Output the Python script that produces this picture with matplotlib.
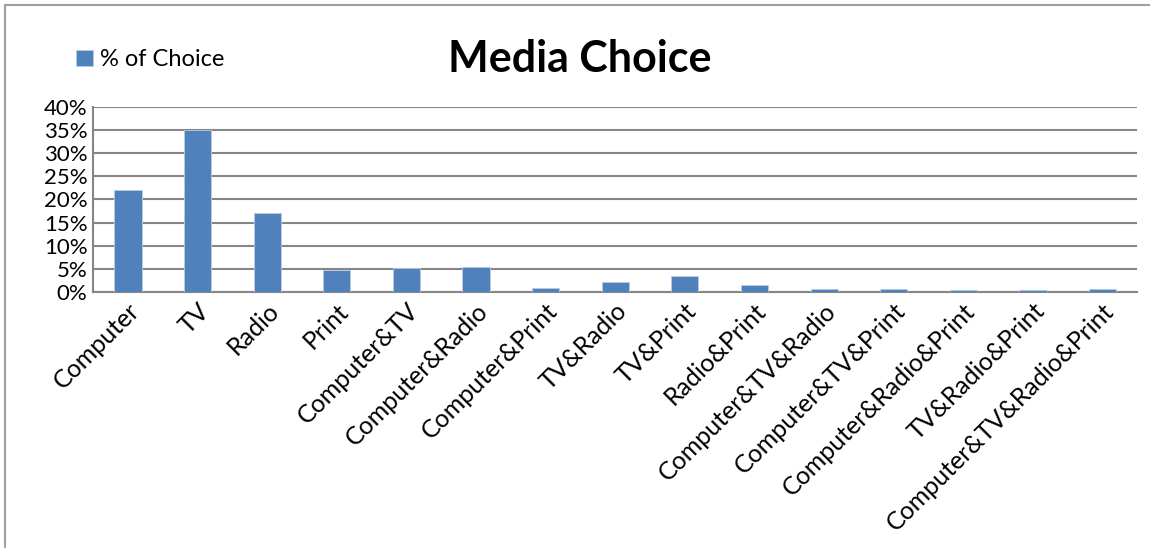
import numpy as np
import matplotlib.pyplot as plt
from matplotlib.lines import Line2D

plt.rcParams['font.family'] = ['Lato', 'DejaVu Sans']

categories = ['Computer', 'TV', 'Radio', 'Print', 'Computer&TV', 'Computer&Radio',
              'Computer&Print', 'TV&Radio', 'TV&Print', 'Radio&Print',
              'Computer&TV&Radio', 'Computer&TV&Print', 'Computer&Radio&Print',
              'TV&Radio&Print', 'Computer&TV&Radio&Print']
share = [22.0, 35.1, 17.0, 4.8, 5.2, 5.4, 0.8, 2.1, 3.5, 1.5, 0.7, 0.6, 0.4, 0.5, 0.6]
yticks = [0, 5, 10, 15, 20, 25, 30, 35, 40]
blue = '#4F81BD'
grid = '#868686'

fig = plt.figure(figsize=(11.5, 5.48), dpi=100)
ax = fig.add_axes([0.081, 0.467, 0.908, 0.338])

x = np.arange(len(categories))
ax.bar(x, share, width=0.39, color=blue, edgecolor='#B9CDE5', linewidth=0.6,
       label='% of Choice', zorder=3)

ax.set_ylim(0, 40)
ax.set_xlim(-0.5, len(categories) - 0.5)
ax.set_yticks(yticks)
ax.set_yticklabels([f'{v}%' for v in yticks], fontsize=16)
ax.set_xticks(x)
ax.set_xticklabels(categories, rotation=45, ha='right', rotation_mode='anchor',
                   fontsize=18)
ax.tick_params(axis='y', length=0, pad=4)
ax.tick_params(axis='x', length=0, pad=5)
ax.yaxis.grid(True, color=grid, linewidth=1.5, zorder=0)
for s in ['top', 'right']:
    ax.spines[s].set_visible(False)
for s in ['left', 'bottom']:
    ax.spines[s].set_color(grid)
    ax.spines[s].set_linewidth(1.5)

fig.text(0.504, 0.893, 'Media Choice', fontsize=31, fontweight='bold',
         ha='center', va='center')
fig.legend(loc='center left', bbox_to_anchor=(0.048, 0.891), frameon=False,
           fontsize=17, handlelength=0.7, handleheight=0.7, handletextpad=0.3)

fig.add_artist(Line2D([5 / 1150, 5 / 1150], [0, 1 - 5 / 548], color='#A0A0A0', lw=1.5))
fig.add_artist(Line2D([5 / 1150, 1], [1 - 5 / 548, 1 - 5 / 548], color='#A0A0A0', lw=1.5))

fig.savefig('out.png', dpi=100)
